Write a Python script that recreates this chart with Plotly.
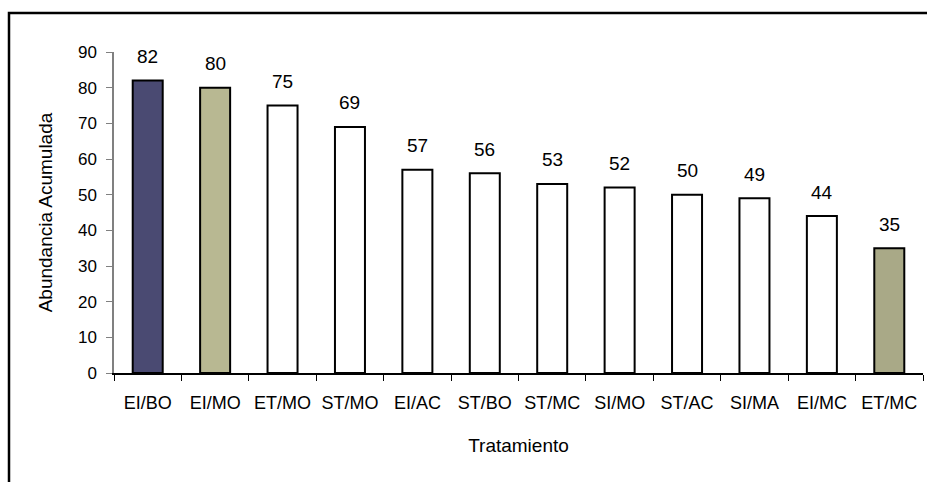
import plotly.graph_objects as go

categories = ["EI/BO", "EI/MO", "ET/MO", "ST/MO", "EI/AC", "ST/BO", "ST/MC", "SI/MO", "ST/AC", "SI/MA", "EI/MC", "ET/MC"]
values = [82, 80, 75, 69, 57, 56, 53, 52, 50, 49, 44, 35]
bar_colors = ["#4a4a72", "#b8b892"] + ["#ffffff"] * 9 + ["#a9a987"]
y_ticks = [0, 10, 20, 30, 40, 50, 60, 70, 80, 90]

FONT = "Liberation Sans, Arial, sans-serif"

fig = go.Figure()
fig.add_trace(go.Bar(
    x=categories, y=values, width=0.445,
    marker=dict(color=bar_colors, line=dict(color="#000000", width=2)),
    hoverinfo="x+y",
))

for c, v in zip(categories, values):
    fig.add_annotation(x=c, y=v, yshift=24, text=str(v), showarrow=False,
                       font=dict(family=FONT, size=19, color="#000000"))

W, H = 927, 482
ml, mr, mt, mb = 114, 4, 52, 109
pw, ph = W - ml - mr, H - mt - mb
fig.add_shape(type="rect", xref="paper", yref="paper",
              x0=(9 - ml) / pw, x1=(W + 20 - ml) / pw,
              y0=(H - mb - (H + 20)) / ph, y1=(H - mb - 13) / ph,
              line=dict(color="#000000", width=2.5), fillcolor="rgba(0,0,0,0)", layer="below")

fig.update_layout(
    width=W, height=H,
    margin=dict(l=ml, r=mr, t=mt, b=mb),
    paper_bgcolor="#ffffff", plot_bgcolor="#ffffff",
    font=dict(family=FONT, size=16, color="#000000"),
    showlegend=False, bargap=0.555,
    xaxis=dict(
        type="category", showline=True, linecolor="#000000", linewidth=1.5,
        ticks="outside", tickson="boundaries", ticklen=6, tickcolor="#000000",
        tickfont=dict(family=FONT, size=18), ticklabelstandoff=13,
        showgrid=False, zeroline=False,
        title=dict(text="Tratamiento", font=dict(family=FONT, size=19), standoff=26),
    ),
    yaxis=dict(
        range=[0, 90], tickvals=y_ticks, showline=True, linecolor="#808080", linewidth=1.5,
        ticks="outside", ticklen=6, tickcolor="#808080", showgrid=False, zeroline=False,
        tickfont=dict(family=FONT, size=17), ticklabelstandoff=6,
        title=dict(text="Abundancia Acumulada", font=dict(family=FONT, size=19), standoff=20),
    ),
)

fig.write_html("out.html", config={"displayModeBar": False},
               post_script="document.body.style.margin='0';document.body.style.overflow='hidden';")
